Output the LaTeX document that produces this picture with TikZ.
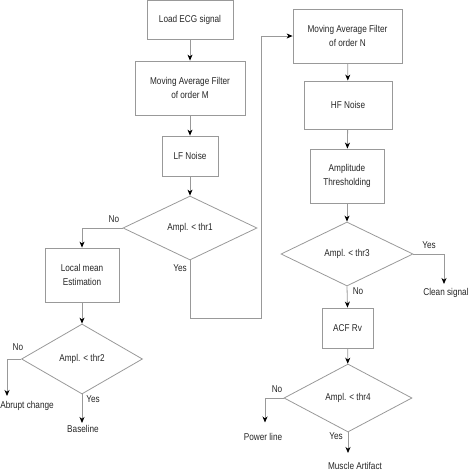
\documentclass[tikz,border=0pt]{standalone}
\usepackage{fontspec}
\setmainfont{Liberation Sans}[FakeStretch=0.83]
\usetikzlibrary{arrows.meta,shapes.geometric,positioning}
\tikzset{>={Stealth[black,length=6pt,width=5pt,inset=1.8pt]},
         every node/.style={font=\fontsize{9.9}{14}\selectfont, text=black!85},
         stepbox/.style={draw=black!40, line width=0.8pt, align=center, inner sep=0pt},
         decision/.style={diamond, draw=black!40, line width=0.8pt, inner sep=0pt},
         link/.style={draw=black!40, line width=0.8pt, ->},
         lbl/.style={inner sep=0pt}}

\begin{document}
\begin{tikzpicture}[x=1pt,y=-1pt]

	\useasboundingbox (0,0) rectangle (474,474);

	% left branch
	\node[stepbox, minimum width=86, minimum height=39] (load) at (190,20) {Load ECG signal};
	\node[stepbox, minimum width=110, minimum height=54] (mafm) at (190,88) {Moving Average Filter\\of order M};
	\node[stepbox, minimum width=56, minimum height=40] (lf) at (190,156) {LF Noise};
	\node[decision, minimum width=134, minimum height=64] (d1) at (190,228) {Ampl. < thr1};
	\node[stepbox, minimum width=74, minimum height=54] (local) at (82,275) {Local mean\\Estimation};
	\node[decision, minimum width=121, minimum height=70] (d2) at (82,359) {Ampl. < thr2};
	\node[lbl, anchor=north] (abrupt) at (27,401.5) {Abrupt change};
	\node[lbl, anchor=north] (baseline) at (83,425) {Baseline};

	% right branch
	\node[stepbox, minimum width=109, minimum height=54] (mafn) at (347.5,36) {Moving Average Filter\\of order N};
	\node[stepbox, minimum width=88, minimum height=48] (hf) at (348,105) {HF Noise};
	\node[stepbox, minimum width=74, minimum height=54] (amp) at (347,176) {Amplitude\\Thresholding};
	\node[decision, minimum width=132, minimum height=64] (d3) at (347,254) {Ampl. < thr3};
	\node[lbl, anchor=north] (clean) at (446,288.5) {Clean signal};
	\node[stepbox, minimum width=51, minimum height=40] (acf) at (347.5,328) {ACF Rv};
	\node[decision, minimum width=128, minimum height=68] (d4) at (348,398) {Ampl. < thr4};
	\node[lbl, anchor=north] (power) at (263,433.5) {Power line};
	\node[lbl, anchor=north] (muscle) at (355,462.5) {Muscle Artifact};

	% yes / no
	\node[lbl] (d1no) at (114,219) {No};
	\node[lbl] (d1yes) at (180,268) {Yes};
	\node[lbl] (d2no) at (18,347) {No};
	\node[lbl] (d2yes) at (93,399) {Yes};
	\node[lbl] (d3yes) at (429,245) {Yes};
	\node[lbl] (d3no) at (358,291) {No};
	\node[lbl] (d4no) at (277,389) {No};
	\node[lbl] (d4yes) at (336,436) {Yes};

	\coordinate (loop) at (261,318);

	\draw[link] (load) -- (mafm);
	\draw[link] (mafm) -- (lf);
	\draw[link] (lf) -- (d1);
	\draw[link] (d1.west) -| (local.north);
	\draw[link] (local) -- (d2);
	\draw[link] (d2.west) -| ([xshift=-20pt,yshift=5.5pt]abrupt.north);
	\draw[link] (d2.south) -- ([xshift=-1pt,yshift=2pt]baseline.north);
	\draw[link] (d1.south) |- (loop) |- (mafn.west);

	\draw[link] (mafn) -- (hf);
	\draw[link] (hf) -- (amp);
	\draw[link] (amp) -- (d3);
	\draw[link] (d3.east) -| ([xshift=-2pt,yshift=4.5pt]clean.north);
	\draw[link] (d3.south) -- (acf.north);
	\draw[link] (acf) -- (d4);
	\draw[link] (d4.west) -| ([xshift=2pt,yshift=11pt]power.north);
	\draw[link] (d4.south) -- ([xshift=-7pt,yshift=9.5pt]muscle.north);

\end{tikzpicture}
\end{document}
